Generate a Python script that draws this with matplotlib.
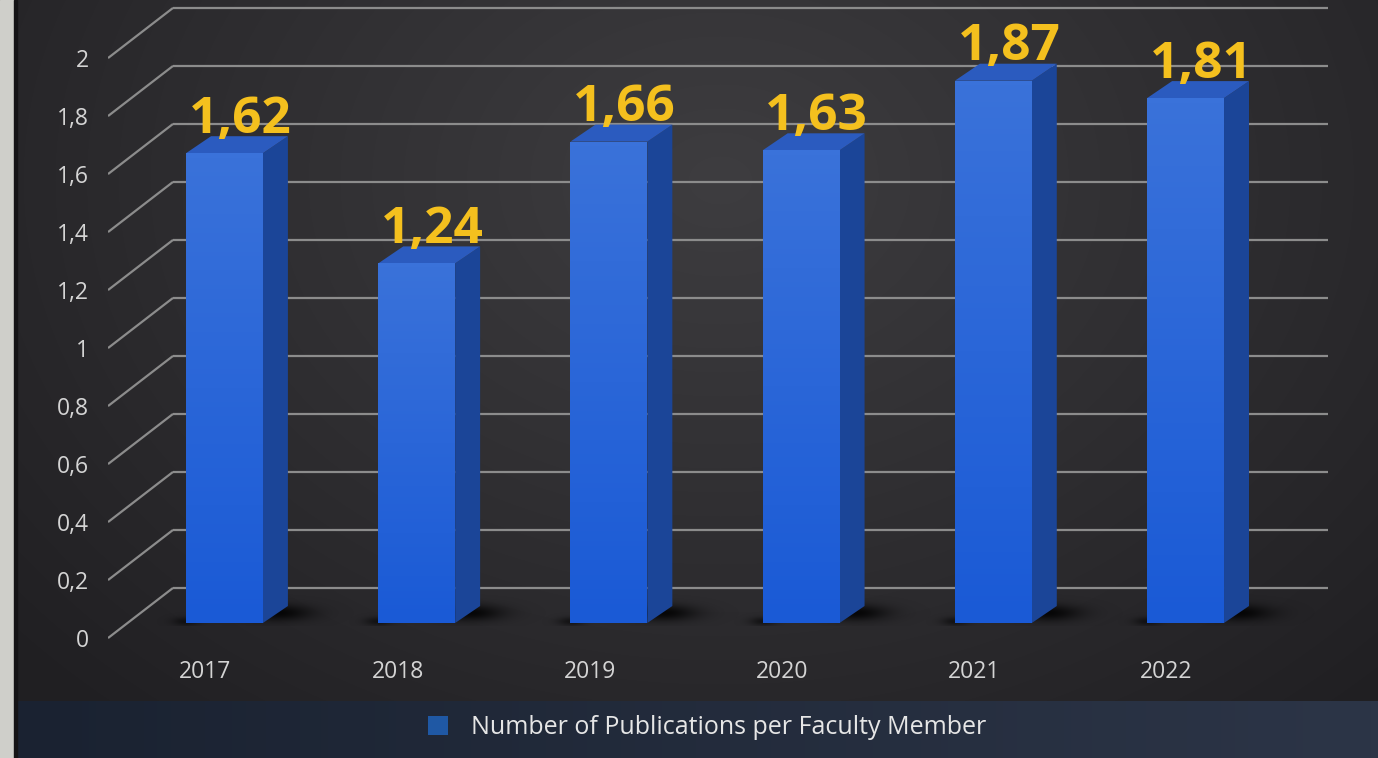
import numpy as np
import matplotlib.pyplot as plt
import matplotlib.colors as mcolors
import matplotlib.transforms as mtransforms
from matplotlib.patches import Polygon, Patch, Rectangle

# data
years = ['2017', '2018', '2019', '2020', '2021', '2022']
values = [1.62, 1.24, 1.66, 1.63, 1.87, 1.81]
y_ticks = [0, 0.2, 0.4, 0.6, 0.8, 1.0, 1.2, 1.4, 1.6, 1.8, 2.0]
y_tick_labels = ['0', '0,2', '0,4', '0,6', '0,8', '1', '1,2', '1,4', '1,6', '1,8', '2']
series_name = 'Number of Publications per Faculty Member'

plt.rcParams['font.family'] = ['Open Sans', 'DejaVu Sans']

W, H = 1378, 758
fig = plt.figure(figsize=(W / 100, H / 100), dpi=100)

# background (dark radial gradient, paper strip, legend band)
bg = fig.add_axes([0, 0, 1, 1], zorder=-10)
yy, xx = np.mgrid[0:H, 0:W]
d = np.clip(np.sqrt(((xx - 720) / 950) ** 2 + ((yy - 180) / 720) ** 2), 0, 1)
c0 = np.array(mcolors.to_rgb('#3e3d40'))
c1 = np.array(mcolors.to_rgb('#201f22'))
bg.imshow(c0 + (c1 - c0) * d[..., None], extent=[0, W, H, 0], aspect='auto')
band = np.linspace(0, 1, 200)[None, :, None]
b0 = np.array(mcolors.to_rgb('#1a2231'))
b1 = np.array(mcolors.to_rgb('#2c3547'))
bg.imshow(b0 + (b1 - b0) * band, extent=[14, W, H, 701], aspect='auto')
bg.add_patch(Rectangle((0, 0), 14, H, color='#cfcfca'))
bg.add_patch(Rectangle((14, 0), 3, H, color='#151416'))
bg.set_xlim(0, W)
bg.set_ylim(H, 0)
bg.axis('off')

# main axes
ax = fig.add_axes([108 / W, (H - 650) / H, 1220 / W, 650 / H])
ax.set_facecolor('none')
for s in ax.spines.values():
    s.set_visible(False)

BW = 0.40      # bar front width
DX = 0.130     # bar depth in x
DY = 0.0586    # bar depth in y
FRONT = -0.052 # floor front offset
BACK = 0.121   # back wall offset
WALL = 0.0533  # side wall width (axes fraction)

x = np.arange(len(years))
trans = mtransforms.blended_transform_factory(ax.transAxes, ax.transData)
for v in y_ticks:
    ax.plot([0, WALL], [v + FRONT, v + BACK], color='#8c8c8c', lw=1.6,
            transform=trans, zorder=1, solid_capstyle='butt')
    ax.plot([WALL, 1.0], [v + BACK, v + BACK], color='#8c8c8c', lw=1.6,
            transform=trans, zorder=1, solid_capstyle='butt')

# soft shadows at bar bases, thrown to the right
su = np.linspace(-0.35, 0.75, 220)
sw = np.linspace(-0.01, 0.11, 60)
U, V = np.meshgrid(su, sw)
a = 0.85 * np.exp(-((U - 0.28) / 0.17) ** 2 - ((V - 0.035) / 0.028) ** 2)
a += 0.55 * np.exp(-((U + 0.2) / 0.07) ** 2 - ((V - 0.005) / 0.015) ** 2)
shadow = np.zeros(U.shape + (4,))
shadow[..., 3] = np.clip(a, 0, 0.9)

bars = ax.bar(x, values, width=BW, color='#2664d8', zorder=3, linewidth=0)
grad = np.linspace(0, 1, 100)[:, None, None]
g0 = np.array(mcolors.to_rgb('#3a72da'))
g1 = np.array(mcolors.to_rgb('#1a5ad6'))
for xi, v, bar in zip(x, values, bars):
    ax.imshow(shadow, extent=[xi + su[0], xi + su[-1], sw[0], sw[-1]],
              origin='lower', aspect='auto', zorder=2, interpolation='bilinear')
    im = ax.imshow(g0 + (g1 - g0) * grad, extent=[xi - BW / 2, xi + BW / 2, 0, v],
                   aspect='auto', zorder=3.1)
    im.set_clip_path(bar)
    r = xi + BW / 2
    l = xi - BW / 2
    ax.add_patch(Polygon([(r, 0), (r + DX, DY), (r + DX, v + DY), (r, v)],
                         closed=True, color='#1b4598', lw=0, zorder=3))
    ax.add_patch(Polygon([(l, v), (l + DX, v + DY), (r + DX, v + DY), (r, v)],
                         closed=True, color='#2b5bbf', lw=0, zorder=3))
    ax.text(xi + DX / 2 + 0.016, v + DY + 0.012, f'{v:.2f}'.replace('.', ','),
            ha='center', va='baseline', fontsize=37, fontweight='bold',
            color='#f4c01e', zorder=5)

ax.set_xlim(-0.606, 5.741)
ax.set_ylim(-(650 - 623) / 290, 623 / 290)

ax.set_yticks([v + FRONT for v in y_ticks], y_tick_labels)
ax.set_xticks(x - 0.099, years)
ax.tick_params(axis='y', length=0, pad=14, labelsize=16.5, labelcolor='#d4d4d4')
ax.tick_params(axis='x', length=0, pad=7, labelsize=16.5, labelcolor='#d4d4d4')

fig.legend(handles=[Patch(facecolor='#1f58a4', label=series_name)], loc='center',
           bbox_to_anchor=(707 / W, 1 - 728 / H), frameon=False, fontsize=18,
           labelcolor='#e6e6e6', handlelength=0.8, handleheight=0.8,
           handletextpad=0.9)

fig.savefig('out.png', dpi=100)
